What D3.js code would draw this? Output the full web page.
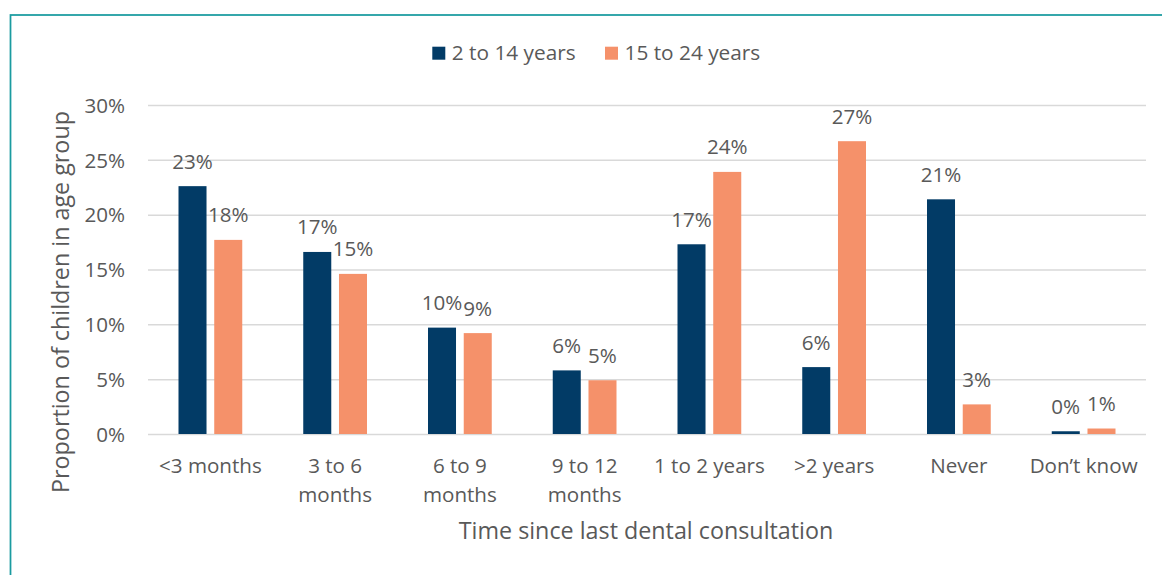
<!DOCTYPE html>
<html>
<head>
<meta charset="utf-8">
<script src="https://cdn.jsdelivr.net/npm/d3@7/dist/d3.min.js"></script>
<style>
  html, body { margin: 0; padding: 0; background: #ffffff; }
  svg { display: block; }
  text { font-family: "Open Sans", "Noto Sans", sans-serif; fill: #595959; }
</style>
</head>
<body>
<svg id="chart" width="1162" height="575"></svg>
<script>
// ---- data ----
const categories = ["<3 months", "3 to 6\nmonths", "6 to 9\nmonths", "9 to 12\nmonths", "1 to 2 years", ">2 years", "Never", "Don\u2019t know"];
const seriesNames = ["2 to 14 years", "15 to 24 years"];
const values2to14 = [22.6, 16.6, 9.7, 5.8, 17.3, 6.1, 21.4, 0.25];
const values15to24 = [17.7, 14.6, 9.2, 4.9, 23.9, 26.7, 2.7, 0.5];
const yTicks = [0, 5, 10, 15, 20, 25, 30];
const xTitle = "Time since last dental consultation";
const yTitle = "Proportion of children in age group";

const colors = ["#023b66", "#f5916a"];
const textColor = "#595959";

const svg = d3.select("#chart");

// frame
svg.append("rect")
  .attr("x", 10.5).attr("y", 15)
  .attr("width", 1170).attr("height", 600)
  .attr("fill", "none")
  .attr("stroke", "#1a9ba0")
  .attr("stroke-width", 1.75);

const plot = { left: 148, right: 1146, top: 105, bottom: 434 };

const y = d3.scaleLinear().domain([0, 30]).range([plot.bottom, plot.top]);
const x0 = d3.scaleBand().domain(categories).range([plot.left, plot.right]).paddingInner(0).paddingOuter(0);
const groupW = x0.bandwidth() * 0.511;
const x1 = d3.scaleBand().domain(seriesNames)
  .range([(x0.bandwidth() - groupW) / 2, (x0.bandwidth() + groupW) / 2])
  .paddingInner(0.216).paddingOuter(0);

// gridlines
const yAxis = d3.axisLeft(y).tickValues(yTicks)
  .tickSize(-(plot.right - plot.left))
  .tickPadding(23)
  .tickFormat(d => d + "%");
const gy = svg.append("g").attr("transform", `translate(${plot.left},0)`).call(yAxis);
gy.select(".domain").remove();
gy.selectAll(".tick line").attr("stroke", "#d9d9d9").attr("stroke-width", 1.5);
gy.selectAll(".tick text")
  .attr("fill", textColor)
  .style("font-size", "20.6px")
  .attr("dy", "0.35em");

// bars
const data = categories.map((c, i) => ({ cat: c, vals: [values2to14[i], values15to24[i]] }));
const groups = svg.append("g").selectAll("g").data(data).join("g")
  .attr("transform", d => `translate(${x0(d.cat)},0)`);

groups.selectAll("rect")
  .data(d => d.vals.map((v, j) => ({ s: seriesNames[j], v, j })))
  .join("rect")
  .attr("x", d => x1(d.s))
  .attr("width", x1.bandwidth())
  .attr("y", d => y(d.v))
  .attr("height", d => y(0) - y(d.v))
  .attr("fill", d => colors[d.j]);

groups.selectAll("text.lbl")
  .data(d => d.vals.map((v, j) => ({ s: seriesNames[j], v, j })))
  .join("text")
  .attr("class", "lbl")
  .attr("x", d => x1(d.s) + x1.bandwidth() / 2)
  .attr("y", d => y(d.v) - 17.5)
  .attr("text-anchor", "middle")
  .style("font-size", "20.6px")
  .attr("fill", textColor)
  .text(d => Math.round(d.v) + "%");

// category labels
const xAxis = d3.axisBottom(x0).tickSize(0).tickPadding(0);
const gx = svg.append("g").attr("transform", `translate(0,${plot.bottom})`).call(xAxis);
gx.select(".domain").remove();
gx.selectAll(".tick text").each(function(d) {
  const t = d3.select(this);
  t.text(null).attr("dy", null).attr("y", 0)
    .attr("fill", textColor)
    .style("font-size", "20.6px");
  d.split("\n").forEach((line, k) => {
    t.append("tspan").attr("x", 0).attr("y", 39 + k * 28.5).text(line);
  });
});

// axis titles
svg.append("text")
  .attr("x", 646).attr("y", 539)
  .attr("text-anchor", "middle")
  .style("font-size", "23.3px")
  .attr("fill", textColor)
  .text(xTitle);

svg.append("text")
  .attr("transform", "translate(68.5,302) rotate(-90)")
  .attr("text-anchor", "middle")
  .style("font-size", "23.3px")
  .attr("fill", textColor)
  .text(yTitle);

// legend
const legendX = [432.3, 605];
const lg = svg.append("g").selectAll("g").data(seriesNames).join("g")
  .attr("transform", (d, i) => `translate(${legendX[i]},0)`);
lg.append("rect").attr("x", 0).attr("y", 46.7).attr("width", 13).attr("height", 13)
  .attr("fill", (d, i) => colors[i]);
lg.append("text").attr("x", 19.5).attr("y", 60)
  .style("font-size", "20.8px")
  .attr("fill", textColor)
  .text(d => d);
</script>
</body>
</html>
